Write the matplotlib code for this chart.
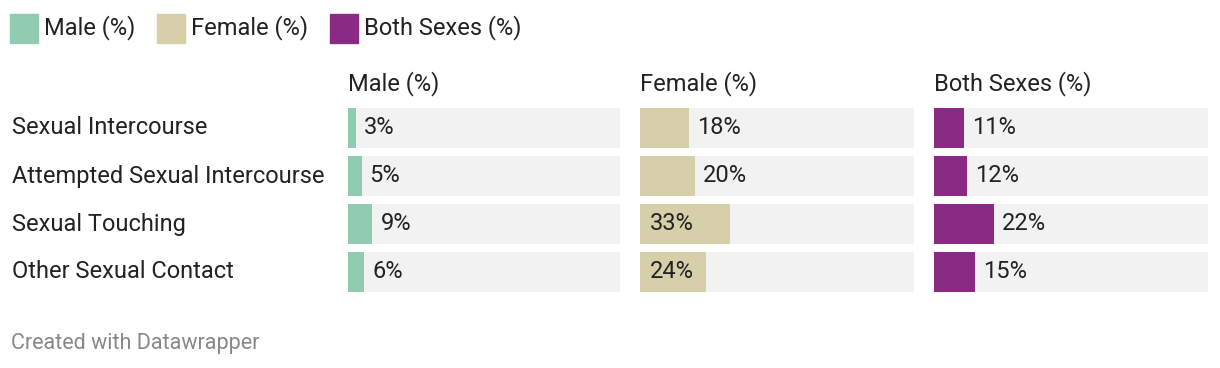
import matplotlib
matplotlib.use("Agg")
import matplotlib.pyplot as plt
from matplotlib.patches import Rectangle

plt.rcParams['font.family'] = ['Roboto', 'DejaVu Sans']

categories = ["Sexual Intercourse", "Attempted Sexual Intercourse",
              "Sexual Touching", "Other Sexual Contact"]
series_names = ["Male (%)", "Female (%)", "Both Sexes (%)"]
male = [3, 5, 9, 6]
female = [18, 20, 33, 24]
both = [11, 12, 22, 15]
series_values = [male, female, both]
# labels drawn inside the bar for these (series, row)
inside_labels = {(1, 2), (1, 3)}

colors = ["#91cbb2", "#d6cfa9", "#8b2a85"]
W, H = 1220, 368
TEXT = "#222222"
FS = 17

fig = plt.figure(figsize=(W / 100, H / 100), dpi=100)
fig.patch.set_facecolor("white")


def fx(px):
    return px / W


def fy(py):
    return 1 - py / H


# legend
leg_x = [10, 157, 330]
for name, c, x in zip(series_names, colors, leg_x):
    fig.patches.append(Rectangle((fx(x), fy(43)), fx(28), 29 / H,
                                 transform=fig.transFigure, color=c))
    fig.text(fx(x + 34), fy(28), name, fontsize=FS, color=TEXT, va="center")

# row labels
row_y = [128, 176, 224, 272]
for cat, y in zip(categories, row_y):
    fig.text(fx(12), fy(y), cat, fontsize=FS, color=TEXT, va="center")

# panels
panel_left = [348, 640, 934]
panel_width = [272, 274, 274]
top, bottom = 104, 296
for k, (name, vals, c) in enumerate(zip(series_names, series_values, colors)):
    ax = fig.add_axes([fx(panel_left[k]), fy(bottom), fx(panel_width[k]),
                       (bottom - top) / H])
    ax.set_xlim(0, 100)
    ax.set_ylim(3.5, -0.5)
    ax.axis("off")
    ypos = range(len(vals))
    ax.barh(ypos, [100] * len(vals), height=40 / 48, color="#f2f2f2")
    ax.barh(ypos, vals, height=40 / 48, color=c)
    for i, v in enumerate(vals):
        if (k, i) in inside_labels:
            ax.annotate(f"{v}%", (0, i), xytext=(10, 0), textcoords="offset pixels",
                        va="center", ha="left", fontsize=FS, color=TEXT)
        else:
            ax.annotate(f"{v}%", (v, i), xytext=(8, 0), textcoords="offset pixels",
                        va="center", ha="left", fontsize=FS, color=TEXT)
    fig.text(fx(panel_left[k]), fy(84), name, fontsize=FS, color=TEXT, va="center")

fig.text(fx(11), fy(344), "Created with Datawrapper", fontsize=15.5,
         color="#888888", va="center")

fig.savefig("out.png", dpi=100, facecolor="white")
